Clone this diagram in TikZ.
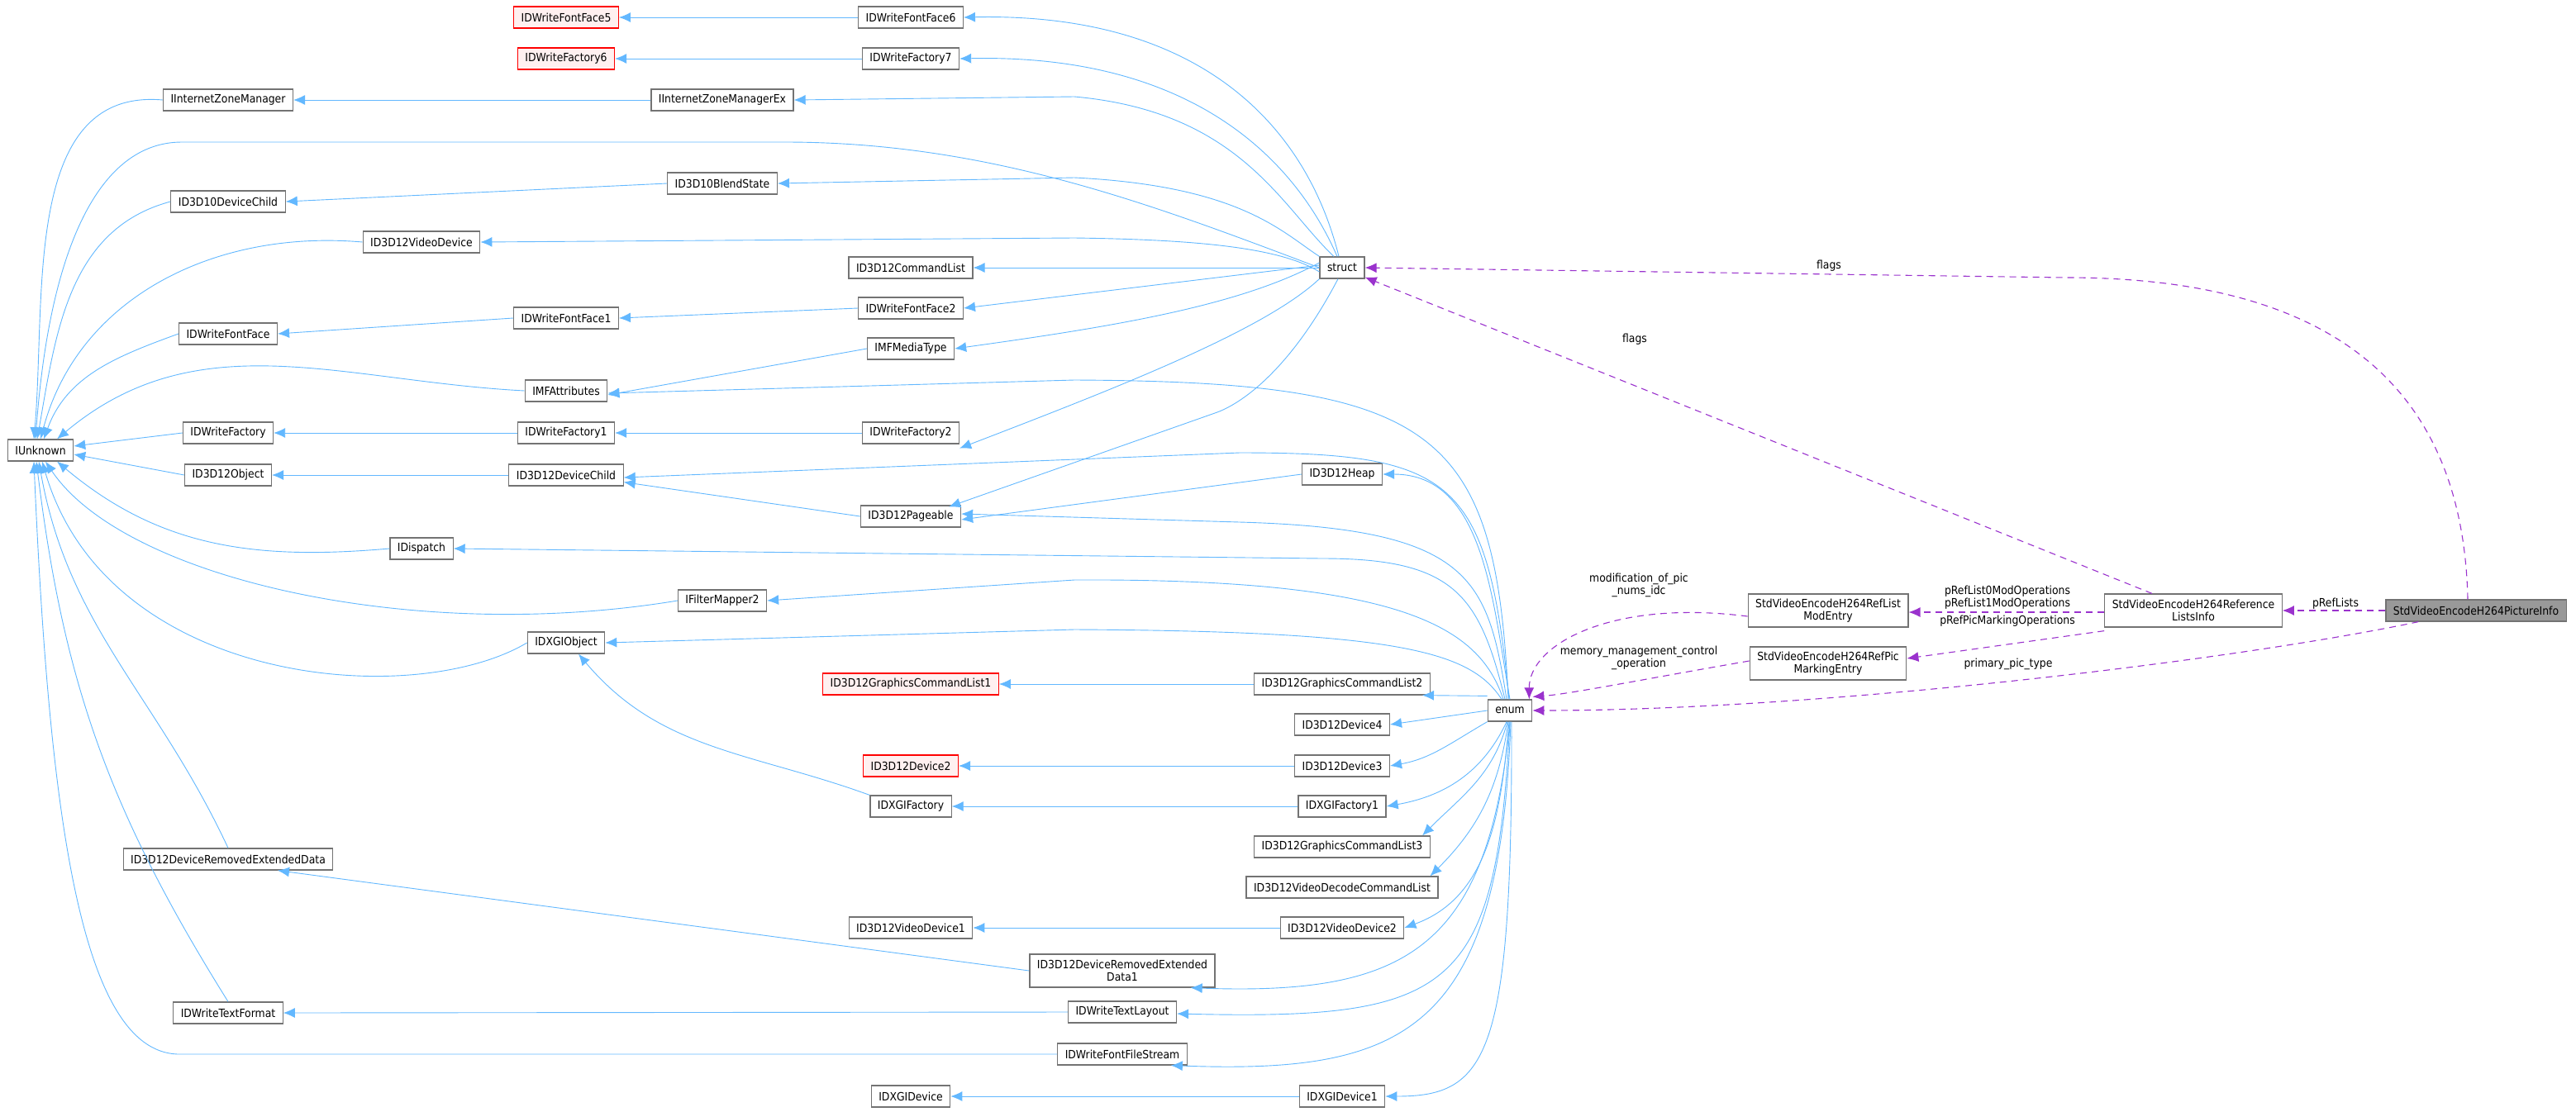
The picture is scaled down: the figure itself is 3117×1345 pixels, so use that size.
\documentclass[tikz,border=0pt]{standalone}
\usepackage{fontspec}
\setmainfont{DejaVu Sans Condensed}
\usetikzlibrary{arrows.meta}
\definecolor{inh}{HTML}{63B8FF}
\definecolor{use}{HTML}{9A32CD}
\begin{document}
\begin{tikzpicture}[x=1pt,y=-1pt,
 box/.style={draw=black!55,line width=1.2pt,fill=white,minimum height=26pt,inner xsep=9pt,font=\fontsize{13.8}{15}\selectfont},
 red/.style={box,draw=red,fill=red!6},
 cur/.style={box,fill=black!40},
 two/.style={box,align=center,minimum height=40pt},
 ih/.style={draw=inh,line width=0.9pt,-{Latex[length=14pt,width=12pt]}},
 us/.style={draw=use,line width=1.1pt,dashed,dash pattern=on 8pt off 6pt,-{Latex[length=14pt,width=12pt]}},
 lab/.style={font=\fontsize{13.8}{15}\selectfont,align=center,inner sep=1pt}]
\useasboundingbox (0,0) rectangle (3117,1345);
% nodes
\node[box] (IU) at (49,545) {IUnknown};
\node[box] (IZM) at (276,121) {IInternetZoneManager};
\node[box] (D10C) at (276,244) {ID3D10DeviceChild};
\node[box] (FF) at (276,404) {IDWriteFontFace};
\node[box] (WF) at (276,524) {IDWriteFactory};
\node[box] (OBJ) at (276,575) {ID3D12Object};
\node[box] (DRED) at (276,1040) {ID3D12DeviceRemovedExtendedData};
\node[box] (TF) at (276,1226) {IDWriteTextFormat};
\node[box] (VD) at (510,293) {ID3D12VideoDevice};
\node[box] (DISP) at (510,664) {IDispatch};
\node[red] (FF5) at (685,21) {IDWriteFontFace5};
\node[red] (WF6) at (685,71) {IDWriteFactory6};
\node[box] (FF1) at (685,385) {IDWriteFontFace1};
\node[box] (MFA) at (685,473) {IMFAttributes};
\node[box] (WF1) at (685,524) {IDWriteFactory1};
\node[box] (DC) at (685,575) {ID3D12DeviceChild};
\node[box] (XO) at (685,778) {IDXGIObject};
\node[box] (IZMX) at (874,121) {IInternetZoneManagerEx};
\node[box] (BS) at (874,222) {ID3D10BlendState};
\node[box] (FM2) at (874,727) {IFilterMapper2};
\node[box] (FF6) at (1102,21) {IDWriteFontFace6};
\node[box] (WF7) at (1102,71) {IDWriteFactory7};
\node[box] (CL) at (1102,324) {ID3D12CommandList};
\node[box] (FF2) at (1102,373) {IDWriteFontFace2};
\node[box] (MT) at (1102,422) {IMFMediaType};
\node[box] (WF2) at (1102,524) {IDWriteFactory2};
\node[box] (PG) at (1102,625) {ID3D12Pageable};
\node[red] (GCL1) at (1102,828) {ID3D12GraphicsCommandList1};
\node[red] (DV2) at (1102,927) {ID3D12Device2};
\node[box] (XF) at (1102,976) {IDXGIFactory};
\node[box] (VD1) at (1102,1123) {ID3D12VideoDevice1};
\node[box] (XD) at (1102,1327) {IDXGIDevice};
\node[two] (DRED1) at (1358,1175) {ID3D12DeviceRemovedExtended\\Data1};
\node[box] (TL) at (1358,1225) {IDWriteTextLayout};
\node[box] (FFS) at (1358,1276) {IDWriteFontFileStream};
\node[box] (ST) at (1624,324) {struct};
\node[box] (HP) at (1624,574) {ID3D12Heap};
\node[box] (GCL2) at (1624,828) {ID3D12GraphicsCommandList2};
\node[box] (DV4) at (1624,877) {ID3D12Device4};
\node[box] (DV3) at (1624,927) {ID3D12Device3};
\node[box] (XF1) at (1624,976) {IDXGIFactory1};
\node[box] (GCL3) at (1624,1025) {ID3D12GraphicsCommandList3};
\node[box] (VDCL) at (1624,1074) {ID3D12VideoDecodeCommandList};
\node[box] (VD2) at (1624,1123) {ID3D12VideoDevice2};
\node[box] (XD1) at (1624,1327) {IDXGIDevice1};
\node[box] (EN) at (1827,860) {enum};
\node[two] (ME) at (2212,739) {StdVideoEncodeH264RefList\\ModEntry};
\node[two] (MK) at (2212,803) {StdVideoEncodeH264RefPic\\MarkingEntry};
\node[two] (RL) at (2654,739) {StdVideoEncodeH264Reference\\ListsInfo};
\node[cur] (PI) at (2996,739) {StdVideoEncodeH264PictureInfo};
% inheritance to IUnknown
\draw[ih] (IZM.west) to[out=175,in=85] ([xshift=-8pt]IU.north);
\draw[ih] (ST.west) .. controls (1400,250) and (1200,172) .. (950,172) -- (220,172) .. controls (120,172) and (60,300) .. ([xshift=-6pt]IU.north);
\draw[ih] (D10C.west) to[out=195,in=80] ([xshift=-4pt]IU.north);
\draw[ih] (VD.west) to[out=175,in=75] (IU.north);
\draw[ih] (FF.west) to[out=200,in=70] ([xshift=4pt]IU.north);
\draw[ih] (MFA.west) to[out=177,in=40] ([xshift=20pt]IU.north);
\draw[ih] (WF.west) -- ([yshift=5pt]IU.east);
\draw[ih] (OBJ.west) -- ([yshift=-5pt]IU.east);
\draw[ih] (DISP.west) to[out=185,in=-40] ([xshift=20pt]IU.south);
\draw[ih] (FM2.west) .. controls (500,780) and (150,700) .. ([xshift=6pt]IU.south);
\draw[ih] (XO.west) .. controls (500,860) and (130,830) .. ([xshift=2pt]IU.south);
\draw[ih] (DRED.north) to[out=115,in=-80] ([xshift=-2pt]IU.south);
\draw[ih] (TF.north) to[out=122,in=-83] ([xshift=-5pt]IU.south);
\draw[ih] (FFS.west) -- (220,1276) .. controls (100,1280) and (60,1000) .. ([xshift=-8pt]IU.south);
% other inheritance
\draw[ih] (FF6.west) -- (FF5.east);
\draw[ih] (WF7.west) -- (WF6.east);
\draw[ih] (IZMX.west) -- (IZM.east);
\draw[ih] (BS.west) -- (D10C.east);
\draw[ih] (FF1.west) -- (FF.east);
\draw[ih] (WF1.west) -- (WF.east);
\draw[ih] (DC.west) -- (OBJ.east);
\draw[ih] (FF2.west) -- (FF1.east);
\draw[ih] (MT.west) -- ([yshift=-5pt]MFA.east);
\draw[ih] (WF2.west) -- (WF1.east);
\draw[ih] (PG.west) -- ([yshift=5pt]DC.south east);
\draw[ih] (HP.west) -- ([yshift=-4pt]PG.east);
\draw[ih] (GCL2.west) -- (GCL1.east);
\draw[ih] (DV3.west) -- (DV2.east);
\draw[ih] (XF1.west) -- (XF.east);
\draw[ih] (XF.north west) to[out=160,in=-50] ([xshift=15pt]XO.south);
\draw[ih] (VD2.west) -- (VD1.east);
\draw[ih] (DRED1.west) -- ([xshift=60pt]DRED.south);
\draw[ih] (TL.west) -- (TF.east);
\draw[ih] (XD1.west) -- (XD.east);
% struct to derived
\draw[ih] ([xshift=-4pt]ST.north) .. controls (1580,150) and (1450,15) .. (FF6.east);
\draw[ih] ([xshift=-6pt]ST.north) .. controls (1570,200) and (1450,65) .. (WF7.east);
\draw[ih] ([xshift=-10pt]ST.north) .. controls (1550,250) and (1500,135) .. (1300,117) -- (IZMX.east);
\draw[ih] (ST.north west) .. controls (1550,280) and (1500,225) .. (1300,215) -- (BS.east);
\draw[ih] ([yshift=-5pt]ST.west) .. controls (1550,300) and (1450,290) .. (1300,288) -- (VD.east);
\draw[ih] (ST.west) -- (CL.east);
\draw[ih] ([yshift=3pt]ST.west) -- (FF2.east);
\draw[ih] ([yshift=6pt]ST.west) .. controls (1500,370) and (1350,395) .. (MT.east);
\draw[ih] (ST.south west) .. controls (1530,400) and (1350,470) .. ([yshift=-5pt]WF2.south east);
\draw[ih] ([xshift=-5pt]ST.south) .. controls (1560,450) and (1500,490) .. (1470,500) -- ([xshift=-15pt,yshift=-2pt]PG.north east);
% enum to derived
\draw[ih] ([xshift=-2pt]EN.north) .. controls (1810,520) and (1740,462) .. (1300,460) -- ([yshift=-3pt]MFA.east);
\draw[ih] ([xshift=-1pt]EN.north) .. controls (1800,580) and (1760,548) .. (1500,548) -- ([yshift=-3pt]DC.east);
\draw[ih] ([xshift=0pt]EN.north) to[out=100,in=0] (HP.east);
\draw[ih] ([xshift=-4pt]EN.north) .. controls (1800,700) and (1780,640) .. (1500,632) -- ([yshift=3pt]PG.east);
\draw[ih] ([xshift=-6pt]EN.north) .. controls (1790,720) and (1760,676) .. (1600,676) -- (DISP.east);
\draw[ih] ([xshift=-8pt]EN.north) .. controls (1790,760) and (1700,700) .. (1300,702) -- (FM2.east);
\draw[ih] ([xshift=-10pt]EN.north) .. controls (1780,790) and (1700,764) .. (1300,762) -- (XO.east);
\draw[ih] ([yshift=4pt]EN.north west) -- ([xshift=-10pt]GCL2.south east);
\draw[ih] (EN.west) -- (DV4.east);
\draw[ih] (EN.south west) to[out=210,in=10] (DV3.east);
\draw[ih] ([xshift=-4pt]EN.south) to[out=245,in=10] (XF1.east);
\draw[ih] ([xshift=-3pt]EN.south) to[out=255,in=45] ([xshift=-10pt]GCL3.north east);
\draw[ih] ([xshift=-2pt]EN.south) to[out=262,in=45] ([xshift=-10pt]VDCL.north east);
\draw[ih] ([xshift=-1pt]EN.south) to[out=265,in=20] (VD2.east);
\draw[ih] (EN.south) .. controls (1800,1150) and (1700,1205) .. ([xshift=-30pt]DRED1.south east);
\draw[ih] (EN.south) .. controls (1810,1200) and (1760,1235) .. ([yshift=-2pt]TL.east);
\draw[ih] ([xshift=1pt]EN.south) .. controls (1815,1250) and (1700,1300) .. ([xshift=-20pt]FFS.south east);
\draw[ih] ([xshift=2pt]EN.south) .. controls (1830,1280) and (1800,1327) .. (XD1.east);
% usage (dashed)
\draw[us] ([xshift=-10pt]PI.north) .. controls (2980,450) and (2800,336) .. (2500,336) -- (ST.east);
\node[lab] at (2213,322) {flags};
\draw[us] ([xshift=-50pt]RL.north) -- ([yshift=2pt]ST.south east);
\node[lab] at (1978,411) {flags};
\draw[us] (PI.west) -- (RL.east);
\node[lab] at (2826,731) {pRefLists};
\draw[us] ([yshift=-2pt]RL.west) -- ([yshift=-2pt]ME.east);
\node[lab] at (2429,723) {pRefList0ModOperations\\pRefList1ModOperations};
\draw[us] ([yshift=-4pt]RL.south west) -- ([yshift=6pt]MK.east);
\node[lab] at (2429,752) {pRefPicMarkingOperations};
\draw[us] ([yshift=-7pt]ME.west) .. controls (1950,725) and (1850,780) .. ([xshift=-4pt]EN.north east);
\node[lab] at (1983,708) {modification\_of\_pic\\\_nums\_idc};
\draw[us] ([yshift=3pt]MK.west) .. controls (2000,820) and (1900,840) .. ([yshift=3pt]EN.north east);
\node[lab] at (1983,796) {memory\_management\_control\\\_operation};
\draw[us] ([xshift=40pt]PI.south west) .. controls (2700,800) and (2200,860) .. (EN.east);
\node[lab] at (2430,804) {primary\_pic\_type};
\end{tikzpicture}
\end{document}
